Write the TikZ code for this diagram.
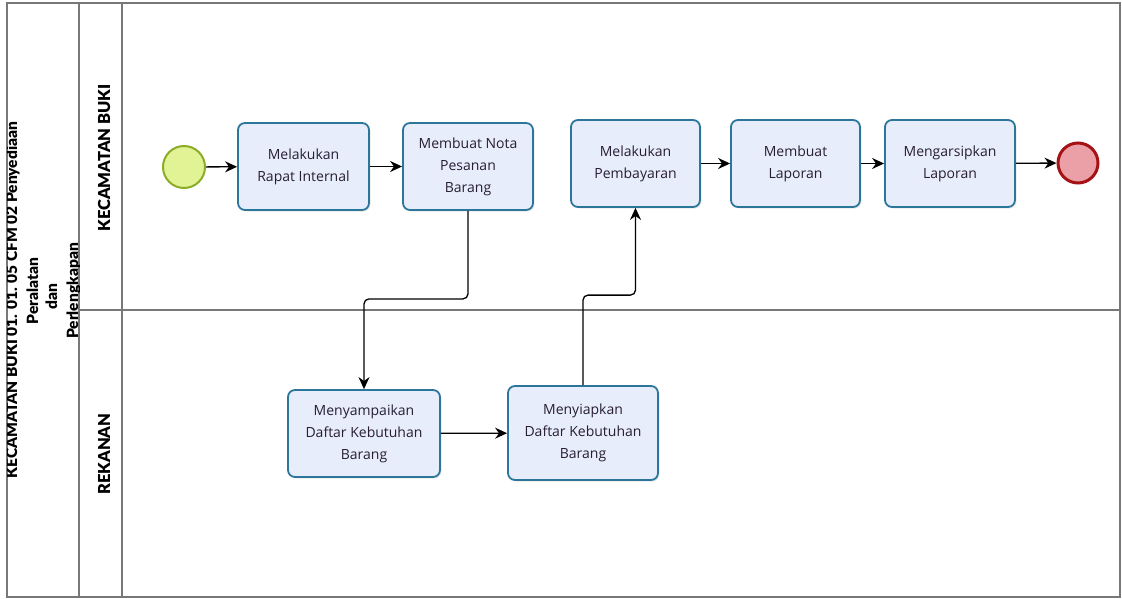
\documentclass[tikz,border=0pt]{standalone}
\usepackage{fontspec}
\setmainfont{Open Sans}
\newfontfamily\lanefont{Lato Black}
\usetikzlibrary{arrows.meta,shadows}
\definecolor{boxfill}{RGB}{231,237,251}
\definecolor{boxline}{RGB}{45,118,155}
\definecolor{boxtext}{RGB}{40,30,52}
\definecolor{startfill}{RGB}{226,243,150}
\definecolor{startline}{RGB}{140,172,40}
\definecolor{endfill}{RGB}{234,160,166}
\definecolor{endline}{RGB}{165,18,22}
\definecolor{frame}{RGB}{120,120,120}
\tikzset{
  task/.style={draw=boxline, line width=1.8pt, fill=boxfill, rounded corners=7pt,
    align=center, text=boxtext, font=\fontsize{14}{22}\selectfont, inner sep=0pt,
    drop shadow={opacity=0.18, shadow xshift=1.5pt, shadow yshift=-1.5pt}},
  startev/.style={circle, draw=startline, fill=startfill, line width=2pt, minimum size=42pt, inner sep=0pt},
  endev/.style={circle, draw=endline, fill=endfill, line width=3pt, minimum size=40pt, inner sep=0pt},
  flow/.style={draw=black, line width=1.3pt, -{Stealth[length=12pt,width=11pt]}},
  lanelbl/.style={rotate=90, anchor=base, font=\lanefont\fontsize{16.5}{20}\selectfont, inner sep=0pt},
  titlelbl/.style={rotate=90, anchor=base, font=\lanefont\fontsize{15.5}{20}\selectfont, inner sep=0pt},
  framel/.style={draw=frame, line width=1.5pt}
}
\begin{document}
\begin{tikzpicture}[x=1pt,y=-1pt]
\useasboundingbox (0,0) rectangle (1122,599);
% frame and lanes
\draw[framel] (7,3) rectangle (1120,597);
\draw[framel] (79,3) -- (79,597);
\draw[framel] (122,3) -- (122,597);
\draw[framel] (79,310) -- (1120,310);
% title
\begin{scope}
\clip (7,3) rectangle (79,597);
\node[titlelbl] (t1) at (17,300) {KECAMATAN BUKI 01. 01. 05 CFM 02 Penyediaan};
\node[titlelbl] (t2) at (38,291) {Peralatan};
\node[titlelbl] (t3) at (57,297) {dan};
\node[titlelbl] (t4) at (78,291) {Perlengkapan};
\end{scope}
\node[lanelbl] (l1) at (110,158) {KECAMATAN BUKI};
\node[lanelbl] (l2) at (110,454) {REKANAN};
% events and tasks
\node[startev] (s) at (184,167) {};
\node[task, minimum width=131pt, minimum height=87pt] (b1) at (303.5,166.5) {Melakukan\\Rapat Internal};
\node[task, minimum width=130pt, minimum height=87pt] (b2) at (468,166.5) {Membuat Nota\\Pesanan\\Barang};
\node[task, minimum width=129pt, minimum height=87pt] (b3) at (635.5,163.5) {Melakukan\\Pembayaran};
\node[task, minimum width=129pt, minimum height=87pt] (b4) at (795.5,163.5) {Membuat\\Laporan};
\node[task, minimum width=130pt, minimum height=87pt] (b5) at (950,163.5) {Mengarsipkan\\Laporan};
\node[endev] (e) at (1078,163) {};
\node[task, minimum width=152pt, minimum height=87pt] (b6) at (364,433.5) {Menyampaikan\\Daftar Kebutuhan\\Barang};
\node[task, minimum width=150pt, minimum height=94pt] (b7) at (583,433) {Menyiapkan\\Daftar Kebutuhan\\Barang};
% flows
\draw[flow] (s) -- (b1);
\draw[flow] (b1) -- (b2);
\draw[flow, rounded corners=5pt] (b2.south) -- ++(0,88) -| (b6.north);
\draw[flow] (b6) -- (b7);
\draw[flow, rounded corners=5pt] (b7.north) -- ++(0,-90) -| (b3.south);
\draw[flow] (b3) -- (b4);
\draw[flow] (b4) -- (b5);
\draw[flow] (b5) -- (e);
\end{tikzpicture}
\end{document}
